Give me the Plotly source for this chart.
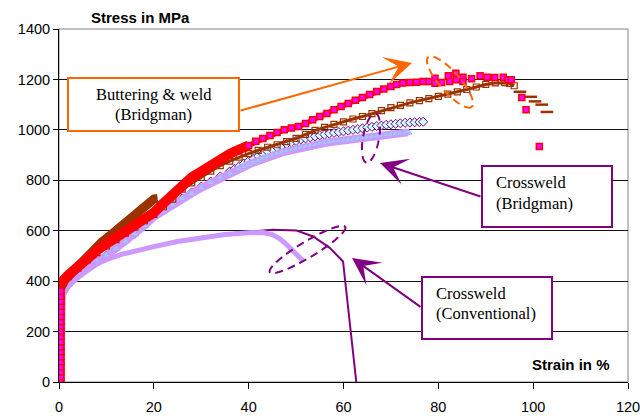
import numpy as np
import plotly.graph_objects as go

# ---------------- data ----------------
x_ticks = [0, 20, 40, 60, 80, 100, 120]
y_ticks = [0, 200, 400, 600, 800, 1000, 1200, 1400]

# Buttering & weld (Bridgman) - red / magenta squares
red_x = [0.4, 0.4, 0.4, 0.4, 0.4, 0.4, 0.4, 0.4, 0.4, 0.4, 0.4, 0.4, 0.4, 0.4, 0.4, 0.4, 0.4, 0.4, 0.4,
         0.6, 1, 2, 3, 4, 6, 8, 10, 12, 14, 16, 18, 20, 22, 24, 26, 28, 30, 32, 34, 36, 38, 40,
         41.5, 43, 44.5, 46, 47.5, 49, 50.5, 52, 53.5, 55, 56.5, 58, 59.5, 61, 62.5, 64, 65.5, 67,
         68.5, 70, 71.2, 72.5, 74, 75.4, 76.8, 78]
red_y = [0, 20, 40, 60, 80, 100, 120, 140, 160, 180, 200, 220, 240, 260, 280, 300, 320, 340, 360,
         385, 405, 425, 443, 460, 493, 522, 548, 572, 595, 618, 645, 672, 708, 745, 782, 812, 835, 860,
         885, 905, 922, 938,
         955, 966, 978, 990, 1000, 1007, 1013, 1025, 1040, 1053, 1065, 1080, 1093, 1105, 1117, 1128,
         1140, 1152, 1162, 1172, 1180, 1186, 1188, 1189, 1192, 1192]
red_tail_x = [79.3, 79.3, 80.7, 82.1, 82.4, 83.7, 83.8, 85.2, 85.2, 87.0, 88.8, 90.3, 91.9, 93.7,
              94.7, 95.4, 97.6, 98.5, 101.3]
red_tail_y = [1205, 1185, 1188, 1215, 1192, 1225, 1199, 1209, 1192, 1203, 1215, 1209, 1208, 1209,
              1199, 1199, 1128, 1080, 934]

# Buttering & weld - brown open squares
brown_x = [0.3, 0.3, 0.5, 1, 2, 4, 6, 8, 10, 12, 14, 16, 18, 20, 22, 24, 26, 28, 30, 32, 34, 36, 38,
           40, 42, 44, 46, 48, 50, 52, 54, 56, 58, 60, 62, 64, 66, 68, 70, 72, 74, 76, 78, 80, 82,
           84, 86, 88, 90, 92, 94, 95, 96]
brown_y = [0, 350, 380, 398, 418, 452, 484, 513, 540, 565, 590, 614, 640, 665, 695, 725, 765, 790,
           812, 836, 858, 876, 892, 906, 919, 931, 941, 953, 966, 982, 998, 1010, 1022, 1032, 1043,
           1053, 1064, 1076, 1088, 1097, 1107, 1116, 1124, 1133, 1142, 1151, 1160, 1170, 1180, 1186,
           1187, 1184, 1175]
brown_tail_x = [97.2, 99.5, 100.4, 101.8, 102.9]
brown_tail_y = [1151, 1131, 1113, 1100, 1071]

# Buttering & weld - brown thick curve (ends near 20 %)
brownc_x = [0.2, 0.2, 1, 3, 6, 9, 12, 15, 18, 20, 20.8]
brownc_y = [0, 365, 400, 442, 505, 555, 600, 648, 698, 726, 728]

# Crossweld (Bridgman) - purple diamonds
dia_x = [0.3, 0.3, 1, 2, 4, 6, 8, 10, 12, 14, 16, 18, 20, 22, 24, 26, 28, 30, 32, 34, 36,
         37, 38, 39, 40, 41, 42, 43, 44, 45, 46, 47, 48, 49, 50,
         51, 52, 53, 54, 55, 56, 57, 58, 59, 60, 61, 62, 63, 64, 65, 66, 67, 68, 69, 70,
         71, 72, 73, 74, 75, 76, 76.8]
dia_y = [0, 330, 362, 388, 422, 452, 478, 502, 530, 560, 588, 622, 657, 682, 705, 728, 752, 775,
         795, 815, 835,
         845, 856, 866, 876, 886, 896, 905, 914, 922, 930, 937, 944, 950, 956,
         962, 966, 970, 974, 978, 981, 985, 988, 991, 994, 997, 1000, 1003, 1006,
         1009, 1012, 1015, 1017, 1020, 1022, 1024, 1026, 1028, 1029, 1030, 1031, 1032]

# Crossweld (Bridgman) - lavender triangles
tri_x = [0.3, 0.3, 0.6, 1, 2, 4, 6, 8, 10, 12, 14, 16, 18, 20, 22, 24, 26, 28, 30, 32, 34, 36,
         38, 39, 40, 41, 42, 43, 44, 45, 46, 47, 48, 49, 50, 51, 52, 53, 54, 55, 56, 57, 58, 59,
         60, 61, 62, 63, 64, 65, 66, 67, 68, 69, 70, 71, 72, 73, 73.6]
tri_y = [0, 320, 340, 362, 388, 422, 452, 478, 502, 530, 558, 586, 620, 655, 680, 703, 726, 748,
         770, 790, 810, 828, 845, 854, 862, 870, 878, 886, 893, 899, 905, 910, 915, 920, 925, 929,
         933, 937, 941, 945, 948, 951, 953, 956, 958, 960, 963, 965, 968, 970, 972, 975, 977, 980,
         982, 984, 986, 988, 990]

# Crossweld (Conventional) - lavender thick line
lav_x = [0.3, 0.3, 1, 2, 4, 6, 8, 10, 13, 16, 20, 25, 30, 35, 40, 43, 45, 46.6, 48, 49.3, 50.5, 51.5]
lav_y = [0, 330, 362, 386, 420, 448, 468, 485, 505, 520, 537, 557, 572, 585, 592, 593, 585, 568,
         545, 520, 500, 480]

# Crossweld (Conventional) - dark purple thin line
pur_x = [0.3, 0.3, 1, 2, 4, 6, 8, 10, 13, 16, 20, 25, 30, 36, 40, 45.1, 50.1, 53.6, 57.1, 59.9, 62.7]
pur_y = [0, 330, 364, 388, 422, 450, 470, 487, 507, 522, 539, 559, 575, 590, 597, 604, 601, 577,
         532, 478, 0]

# ---------------- layout geometry ----------------
W, H = 640, 416
L, R, T, B = 59, 628, 29, 382
XMAX, YMAX = 120, 1400


def dx(px):
    return (px - L) / (R - L) * XMAX


def dy(py):
    return (B - py) / (B - T) * YMAX


def pxp(px):
    return (px - L) / (R - L)


def pyp(py):
    return (B - py) / (B - T)


RED = "#FF0000"
MAG = "#FF00FF"
BROWN = "#993300"
PURPLE = "#800080"
LAV = "#CC99FF"
ORANGE = "#FF6600"

sq_marker = dict(symbol="square", size=6, color=MAG, line=dict(color=RED, width=1.5))

fig = go.Figure()

fig.add_trace(go.Scatter(x=pur_x, y=pur_y, mode="lines",
                         line=dict(color=PURPLE, width=2)))
fig.add_trace(go.Scatter(x=dia_x, y=dia_y, mode="lines+markers",
                         line=dict(color=PURPLE, width=1.5),
                         marker=dict(symbol="diamond", size=7, color="#CCFFFF",
                                     line=dict(color=PURPLE, width=1))))
fig.add_trace(go.Scatter(x=tri_x, y=tri_y, mode="lines+markers",
                         line=dict(color=LAV, width=8),
                         marker=dict(symbol="triangle-up", size=7, color="#99CCFF",
                                     line=dict(color=LAV, width=1))))
fig.add_trace(go.Scatter(x=lav_x, y=lav_y, mode="lines",
                         line=dict(color=LAV, width=5)))
fig.add_trace(go.Scatter(x=brown_x, y=brown_y, mode="lines+markers",
                         line=dict(color=BROWN, width=3),
                         marker=dict(symbol="square-open", size=6, color=BROWN,
                                     line=dict(color=BROWN, width=1.2))))
fig.add_trace(go.Scatter(x=brown_tail_x, y=brown_tail_y, mode="markers",
                         marker=dict(symbol="line-ew", size=9,
                                     line=dict(color=BROWN, width=2.5))))
fig.add_trace(go.Scatter(x=brownc_x, y=brownc_y, mode="lines",
                         line=dict(color=BROWN, width=9)))
# red series: full line, thick solid band in the dense lower part, markers elsewhere
fig.add_trace(go.Scatter(x=red_x, y=red_y, mode="lines",
                         line=dict(color=RED, width=5)))
fig.add_trace(go.Scatter(x=red_x[19:42], y=red_y[19:42], mode="lines",
                         line=dict(color=RED, width=10)))
fig.add_trace(go.Scatter(x=red_x[:19], y=red_y[:19], mode="markers", marker=sq_marker))
fig.add_trace(go.Scatter(x=red_x[41:], y=red_y[41:], mode="markers", marker=sq_marker))
fig.add_trace(go.Scatter(x=red_tail_x, y=red_tail_y, mode="markers", marker=sq_marker))


def ellipse_path(cx, cy, a, b, ang_deg, n=72):
    th = np.radians(ang_deg)
    pts = []
    for k in range(n):
        t = 2 * np.pi * k / n
        ex, ey = a * np.cos(t), b * np.sin(t)
        px = cx + ex * np.cos(th) - ey * np.sin(th)
        py = cy + ex * np.sin(th) + ey * np.cos(th)
        pts.append((dx(px), dy(py)))
    return "M " + " L ".join(f"{x:.4f},{y:.4f}" for x, y in pts) + " Z"


shapes = [
    dict(type="rect", xref="paper", yref="paper", x0=0, x1=1, y0=0, y1=1,
         line=dict(color="#808080", width=1), layer="below"),
    dict(type="rect", xref="x", yref="y", x0=dx(68), x1=dx(239), y0=dy(131), y1=dy(78),
         line=dict(color=ORANGE, width=2), fillcolor="white", layer="above"),
    dict(type="rect", xref="x", yref="y", x0=dx(482), x1=dx(612), y0=dy(227), y1=dy(166),
         line=dict(color=PURPLE, width=2), fillcolor="white", layer="above"),
    dict(type="rect", xref="x", yref="y", x0=dx(422), x1=dx(552), y0=dy(339), y1=dy(277),
         line=dict(color=PURPLE, width=2), fillcolor="white", layer="above"),
    dict(type="path", xref="x", yref="y", path=ellipse_path(450, 82, 33, 10, 48.7),
         line=dict(color=ORANGE, width=2, dash="8px,5px"), layer="above"),
    dict(type="path", xref="x", yref="y", path=ellipse_path(371, 138, 25, 8, 100.4),
         line=dict(color=PURPLE, width=2, dash="8px,6px"), layer="above"),
    dict(type="path", xref="x", yref="y", path=ellipse_path(307.5, 249.5, 44, 8, -31),
         line=dict(color=PURPLE, width=2, dash="8px,5px"), layer="above"),
]

SERIF = "Liberation Serif"
SANS = "Liberation Sans"
annotations = []


def txt(text, px, py, xanchor, size=16.5, family=SERIF, bold=False):
    annotations.append(dict(
        text=f"<b>{text}</b>" if bold else text, xref="paper", yref="paper",
        x=pxp(px), y=pyp(py), xanchor=xanchor, yanchor="middle", showarrow=False,
        font=dict(family=family, size=size, color="black")))


txt("Buttering &amp; weld", 153.5, 94, "center")
txt("(Bridgman)", 153.5, 114, "center")
txt("Crossweld", 494, 182, "left")
txt("(Bridgman)", 494, 203, "left")
txt("Crossweld", 434, 293, "left")
txt("(Conventional)", 434, 313, "left")
txt("Stress in MPa", 89, 17, "left", size=15, family=SANS, bold=True)
txt("Strain in %", 612, 364, "right", size=15, family=SANS, bold=True)


def arrow(tail, head, color):
    annotations.append(dict(
        text="", xref="x", yref="y", x=dx(head[0]), y=dy(head[1]),
        ax=tail[0] - head[0], ay=tail[1] - head[1], showarrow=True,
        arrowhead=3, arrowsize=2.3, arrowwidth=2, arrowcolor=color, standoff=0))


arrow((239, 111), (412, 63), ORANGE)
arrow((482, 197), (380, 163), PURPLE)
arrow((422, 308), (352, 258), PURPLE)

fig.update_layout(
    width=W, height=H, autosize=False,
    margin=dict(l=L, r=W - R, t=T, b=H - B, pad=0, autoexpand=False),
    paper_bgcolor="white", plot_bgcolor="white",
    showlegend=False,
    shapes=shapes, annotations=annotations,
    font=dict(family=SANS, size=14.5, color="black"),
    xaxis=dict(range=[0, XMAX], tickvals=x_ticks, ticks="outside", ticklen=6,
               tickcolor="black", tickwidth=1, showline=True, linecolor="black",
               linewidth=1, showgrid=False, zeroline=False, ticklabelstandoff=6,
               ticklabeloverflow="allow", automargin=False,
               tickfont=dict(family=SANS, size=14.5, color="black")),
    yaxis=dict(range=[0, YMAX], tickvals=y_ticks, ticks="outside", ticklen=5,
               tickcolor="black", tickwidth=1, showline=True, linecolor="black",
               linewidth=1, showgrid=True, gridcolor="#111111", gridwidth=1,
               zeroline=False, ticklabeloverflow="allow", automargin=False,
               tickfont=dict(family=SANS, size=14.5, color="black")),
)

fig.write_html("out.html")
